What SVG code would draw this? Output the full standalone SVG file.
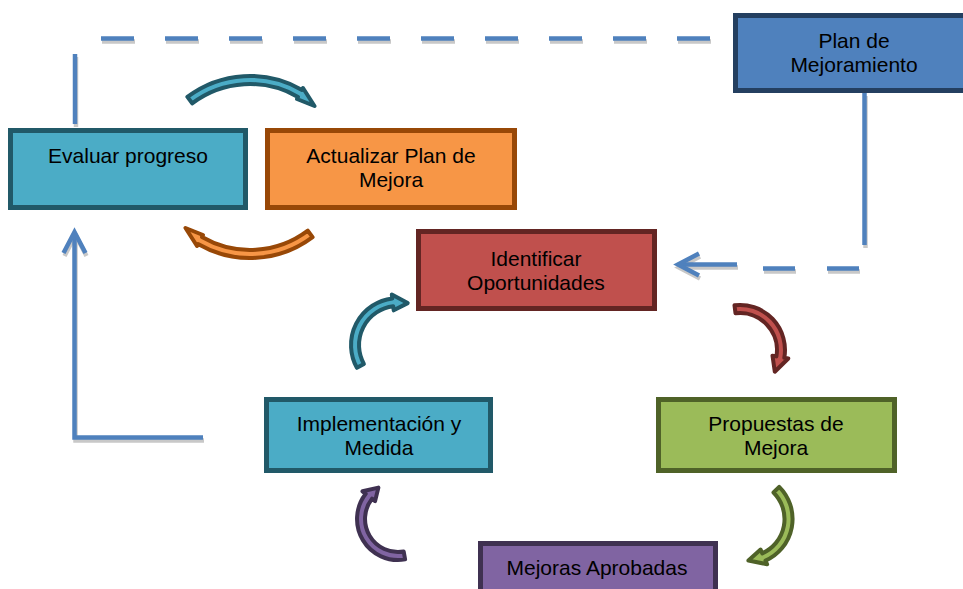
<svg xmlns="http://www.w3.org/2000/svg" width="963" height="589" viewBox="0 0 963 589">
<style>
.box{stroke-width:5}
.arc{stroke-width:4;stroke-linejoin:round}
.teal{fill:#4BACC6;stroke:#215968}
.orange{fill:#F79646;stroke:#984807}
.red{fill:#C0504D;stroke:#632523}
.green{fill:#9BBB59;stroke:#4F6228}
.purple{fill:#8064A2;stroke:#3F3151}
.blue{fill:#4F81BD;stroke:#243F60}
.ln{fill:none;stroke-width:4.5}
.shadow{stroke:#c8c8c8}
.main{stroke:#4F81BD}
text{font-family:"Liberation Sans",Arial,sans-serif;font-size:21px;fill:#000;text-anchor:middle}
</style>
<defs>
<marker id="ahBlue" markerUnits="userSpaceOnUse" viewBox="-30 -15 40 30" markerWidth="40" markerHeight="30" refX="0" refY="0" orient="auto" overflow="visible">
<path d="M-21,-11 L0,0 L-21,11" fill="none" stroke="#4F81BD" stroke-width="4.5"/>
</marker>
<marker id="ahGray" markerUnits="userSpaceOnUse" viewBox="-30 -15 40 30" markerWidth="40" markerHeight="30" refX="0" refY="0" orient="auto" overflow="visible">
<path d="M-21,-11 L0,0 L-21,11" fill="none" stroke="#c8c8c8" stroke-width="4.5"/>
</marker>
</defs>
<rect width="963" height="589" fill="#fff"/>
<g id="connectors">
<g class="ln shadow" transform="translate(1,3)">
<path d="M101,38.5H712" stroke-dasharray="33 31"/>
<path d="M75,54V124"/>
<path d="M864.5,93V245"/>
<path d="M859,268.5H763" stroke-dasharray="32 32"/>
<path d="M737,264.5H678" marker-end="url(#ahGray)"/>
<path d="M203,437.5H74.5V232" marker-end="url(#ahGray)"/>
</g>
<g class="ln main">
<path d="M101,38.5H712" stroke-dasharray="33 31"/>
<path d="M75,54V124"/>
<path d="M864.5,93V245"/>
<path d="M859,268.5H763" stroke-dasharray="32 32"/>
<path d="M737,264.5H678" marker-end="url(#ahBlue)"/>
<path d="M203,437.5H74.5V232" marker-end="url(#ahBlue)"/>
</g>
<path id="arc-eval-act" class="arc teal" d="M187.4,96.9 A104,104 0 0 1 302,89.9 L303,88 L314.5,106 L297,99 L298,96.9 A96,96 0 0 0 192.2,103.3 Z"/>
<path id="arc-act-eval" class="arc orange" transform="rotate(180 250 167)" d="M187.4,96.9 A104,104 0 0 1 302,89.9 L303,88 L314.5,106 L297,99 L298,96.9 A96,96 0 0 0 192.2,103.3 Z"/>
<path id="arc-impl-ident" class="arc teal" d="M356.9,367.8 A47,47 0 0 1 392.3,298.4 L391.8,294.4 L407.7,303.1 L393.7,310.3 L393.2,306.3 A39,39 0 0 0 363.9,363.9 Z"/>
<path id="arc-ident-prop" class="arc red" d="M734.5,305.3 A45,45 0 0 1 784.3,357.8 L788.3,358.5 L774.8,371.7 L772.5,355.7 L776.4,356.4 A37,37 0 0 0 735.5,313.3 Z"/>
<path id="arc-prop-mej" class="arc green" d="M779.2,486.8 A45.5,45.5 0 0 1 765.5,560.6 L767.1,564.2 L748.4,560.5 L760.6,549.6 L762.3,553.3 A37.5,37.5 0 0 0 773.5,492.5 Z"/>
<path id="arc-mej-impl" class="arc purple" d="M405.1,559.4 A41,41 0 0 1 365.7,493.8 L362.5,491.3 L378.4,487.6 L375.1,501.1 L372,498.7 A33,33 0 0 0 403.7,551.5 Z"/>
</g>
<g id="plan-mejoramiento">
<rect class="box blue" x="735.5" y="15.5" width="237" height="75"/>
<text x="854" y="48">Plan de</text>
<text x="854" y="72">Mejoramiento</text>
</g>
<g id="evaluar-progreso">
<rect class="box teal" x="10.5" y="130.5" width="235" height="77"/>
<text x="128" y="163">Evaluar progreso</text>
</g>
<g id="actualizar-plan">
<rect class="box orange" x="267.5" y="130.5" width="247" height="77"/>
<text x="391" y="163">Actualizar Plan de</text>
<text x="391" y="187">Mejora</text>
</g>
<g id="identificar-oportunidades">
<rect class="box red" x="418.5" y="231.5" width="236" height="77"/>
<text x="536" y="266">Identificar</text>
<text x="536" y="290">Oportunidades</text>
</g>
<g id="implementacion-medida">
<rect class="box teal" x="266.5" y="399.5" width="224" height="71"/>
<text x="379" y="431">Implementación y</text>
<text x="379" y="455">Medida</text>
</g>
<g id="propuestas-mejora">
<rect class="box green" x="658.5" y="399.5" width="236" height="71"/>
<text x="776" y="431">Propuestas de</text>
<text x="776" y="455">Mejora</text>
</g>
<g id="mejoras-aprobadas">
<rect class="box purple" x="480.5" y="543.5" width="235" height="70"/>
<text x="597" y="575">Mejoras Aprobadas</text>
</g>
</svg>
